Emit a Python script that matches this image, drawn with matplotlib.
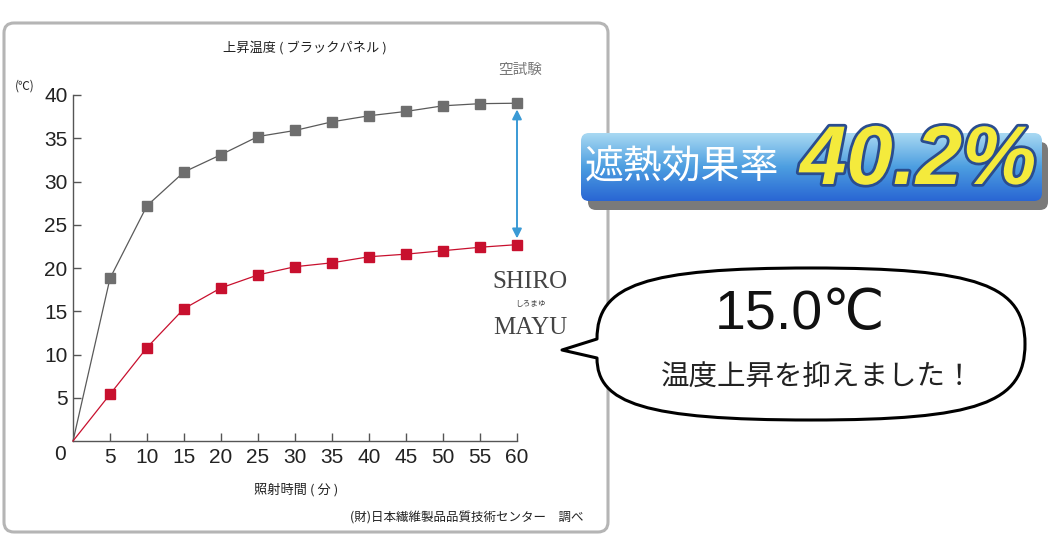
import matplotlib
matplotlib.use("Agg")
import matplotlib.pyplot as plt
import numpy as np
from matplotlib.patches import FancyBboxPatch, PathPatch
from matplotlib.path import Path
import matplotlib.patheffects as pe

JP = 'Noto Sans CJK JP'
NUM = 'Liberation Sans'
plt.rcParams['font.family'] = [JP, 'DejaVu Sans']

# ---------------- data ----------------
minutes = [0, 5, 10, 15, 20, 25, 30, 35, 40, 45, 50, 55, 60]
blank_test = [0, 18.8, 27.2, 31.1, 33.1, 35.2, 35.9, 36.9, 37.6, 38.1, 38.75, 39.0, 39.05]
shiro_mayu = [0, 5.4, 10.8, 15.3, 17.7, 19.2, 20.15, 20.6, 21.3, 21.6, 22.0, 22.4, 22.7]
x_ticks = [5, 10, 15, 20, 25, 30, 35, 40, 45, 50, 55, 60]
y_ticks = [5, 10, 15, 20, 25, 30, 35, 40]

title = "上昇温度 ( ブラックパネル )"
xlabel = "照射時間 ( 分 )"
unit = "(℃)"
blank_label = "空試験"
source = "(財)日本繊維製品品質技術センター　調べ"
banner_label = "遮熱効果率"
banner_value = "40.2%"
bubble_value = "15.0℃"
bubble_text = "温度上昇を抑えました！"

W, H = 1050, 540
fig = plt.figure(figsize=(W / 100, H / 100), dpi=100)

# overlay axes in pixel coordinates (y downward)
ov = fig.add_axes([0, 0, 1, 1])
ov.set_xlim(0, W)
ov.set_ylim(H, 0)
ov.axis('off')

# chart frame
frame = FancyBboxPatch((4, 23), 604, 509, boxstyle="round,pad=0,rounding_size=10",
                       fc='white', ec='#b5b5b5', lw=2.2, zorder=0)
ov.add_patch(frame)

# main axes
x0, x1 = 73, 517
y0, y1 = 441, 95
ax = fig.add_axes([x0 / W, 1 - y0 / H, (x1 - x0) / W, (y0 - y1) / H])
ax.patch.set_alpha(0)
ax.set_xlim(0, 60)
ax.set_ylim(0, 40)
for s in ['top', 'right']:
    ax.spines[s].set_visible(False)
for s in ['left', 'bottom']:
    ax.spines[s].set_color('#555555')
    ax.spines[s].set_linewidth(1.0)

ax.plot(minutes, blank_test, color='#5a5a5a', lw=0.9, marker='s', ms=7.6,
        mfc='#6e6e6e', mec='#6e6e6e', markevery=list(range(1, len(minutes))), clip_on=False, zorder=3)
ax.plot(minutes, shiro_mayu, color='#c8102e', lw=0.9, marker='s', ms=7.6,
        mfc='#c8102e', mec='#c8102e', markevery=list(range(1, len(minutes))), clip_on=False, zorder=3)

ax.set_xticks(x_ticks)
ax.set_xticklabels([str(v) for v in x_ticks])
ax.set_yticks(y_ticks)
ax.set_yticklabels([str(v) for v in y_ticks])
ax.tick_params(axis='x', direction='in', length=6, width=1, color='#555555', pad=5,
               labelsize=15, labelcolor='#222222')
ax.tick_params(axis='y', direction='in', length=6, width=1, color='#555555', pad=4,
               labelsize=15, labelcolor='#222222')
for lab in ax.get_xticklabels() + ax.get_yticklabels():
    lab.set_family(NUM)
ax.text(-1.8, -1.6, "0", transform=ax.transData, fontsize=15, family=NUM, color='#222222',
        ha='center', va='center')
ax.annotate("", xy=(60, blank_test[-1]), xytext=(60, shiro_mayu[-1]),
            arrowprops=dict(arrowstyle='<|-|>', color='#3a9ad5', lw=1.4, mutation_scale=14,
                            shrinkA=4.5, shrinkB=4.5))

# chart texts
ov.text(305, 48, title, fontsize=9.5, ha='center', va='center', color='#222222')
ov.text(25, 86, unit, fontsize=8.5, ha='center', va='center', color='#222222')
ov.text(520, 70, blank_label, fontsize=10.5, ha='center', va='center', color='#777777')
ov.text(296, 490, xlabel, fontsize=9.5, ha='center', va='center', color='#222222')
ov.text(583, 518, source, fontsize=9, ha='right', va='center', color='#222222')
ov.text(530, 282, "SHIRO", fontsize=18, family='Liberation Serif', ha='center', va='center', color='#444444')
ov.text(530, 304, "しろまゆ", fontsize=5.5, ha='center', va='center', color='#444444')
ov.text(530, 328, "MAYU", fontsize=18, family='Liberation Serif', ha='center', va='center', color='#444444')

# banner
shadow = FancyBboxPatch((588, 142), 460, 68, boxstyle="round,pad=0,rounding_size=8",
                        fc='#7a7a7a', ec='none', zorder=2)
ov.add_patch(shadow)
banner = FancyBboxPatch((581, 133), 461, 68, boxstyle="round,pad=0,rounding_size=8",
                        fc='none', ec='none', zorder=3)
ov.add_patch(banner)
top_c = np.array([0.66, 0.85, 0.95])
mid_c = np.array([0.30, 0.62, 0.88])
bot_c = np.array([0.16, 0.40, 0.83])
t = np.linspace(0, 1, 100)[:, None]
grad = np.where(t < 0.5, top_c + (mid_c - top_c) * (t / 0.5), mid_c + (bot_c - mid_c) * ((t - 0.5) / 0.5))
img = ov.imshow(grad[:, None, :], extent=(581, 1042, 201, 133), aspect='auto', zorder=3,
                interpolation='bilinear')
img.set_clip_path(banner)
ov.set_xlim(0, W)
ov.set_ylim(H, 0)
ov.text(585, 168, banner_label, fontsize=28, color='white', ha='left', va='center', zorder=5)
ov.text(800, 184, banner_value, fontsize=60, family=NUM, weight='bold', style='italic',
        color='#f4ea3c', ha='left', va='baseline', zorder=6,
        path_effects=[pe.withStroke(linewidth=4, foreground='#2a4d8f')])

# speech bubble
k = 0.78
cx, cy, a, b = 811, 344, 214, 76
verts = [
    (562, 350),
    (597, 339),
    (597, cy - b * k), (cx - a * k, cy - b), (cx, cy - b),
    (cx + a * k, cy - b), (cx + a, cy - b * k), (cx + a, cy),
    (cx + a, cy + b * k), (cx + a * k, cy + b), (cx, cy + b),
    (cx - a * k, cy + b), (597, cy + b * k), (597, 358),
    (562, 350),
]
codes = [Path.MOVETO, Path.LINETO,
         Path.CURVE4, Path.CURVE4, Path.CURVE4,
         Path.CURVE4, Path.CURVE4, Path.CURVE4,
         Path.CURVE4, Path.CURVE4, Path.CURVE4,
         Path.CURVE4, Path.CURVE4, Path.CURVE4,
         Path.CLOSEPOLY]
ov.add_patch(PathPatch(Path(verts, codes), fc='white', ec='black', lw=2.2, zorder=2, joinstyle='round'))
ov.text(800, 315, bubble_value, fontsize=40, family=[NUM, 'DejaVu Sans'], color='#111111',
        ha='center', va='center', zorder=4)
ov.text(818, 378, bubble_text, fontsize=20.5, color='#222222', ha='center', va='center', zorder=4)

fig.savefig("out.png", dpi=100)
